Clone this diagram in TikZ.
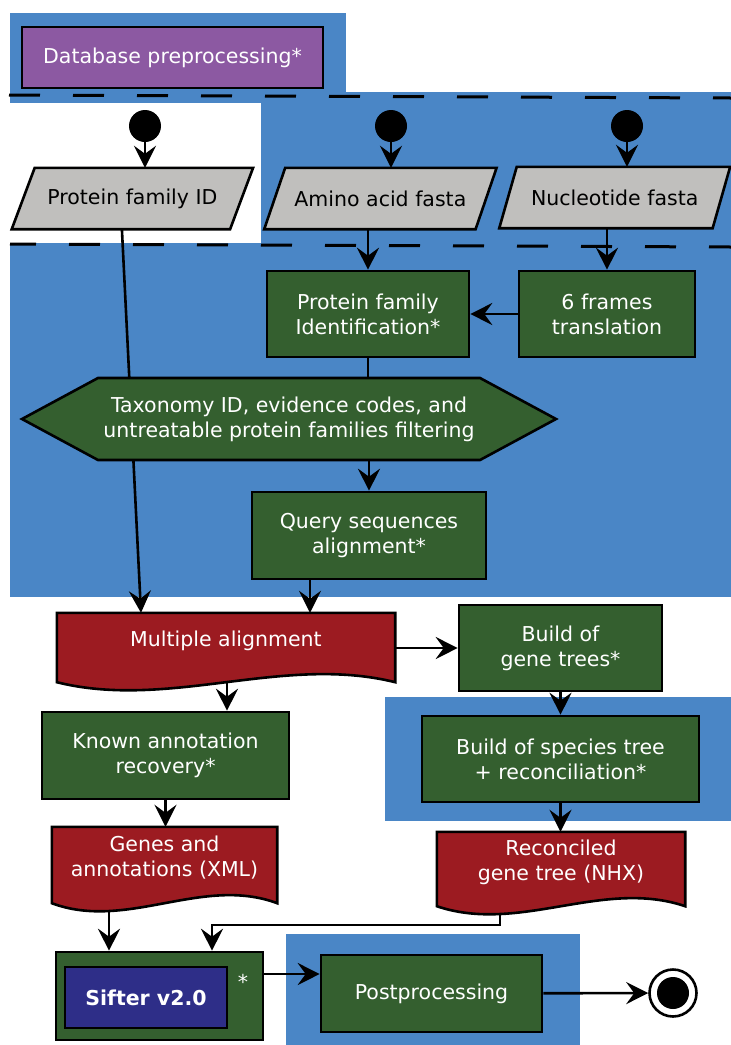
\documentclass[tikz,border=0pt]{standalone}
\usepackage{fontspec}
\setmainfont{DejaVu Sans}
\usetikzlibrary{shapes.geometric,shapes.symbols,arrows.meta,calc}
\pgfdeclarelayer{bg}
\pgfdeclarelayer{lines}
\pgfdeclarelayer{docs}
\pgfsetlayers{bg,lines,docs,main}
\definecolor{bluebg}{RGB}{74,134,198}
\definecolor{boxgreen}{RGB}{52,95,47}
\definecolor{docred}{RGB}{156,27,33}
\definecolor{dbpurple}{RGB}{140,89,162}
\definecolor{iogray}{RGB}{192,191,189}
\definecolor{sifnavy}{RGB}{46,46,136}
\newcommand\docoutline[2]{%
\begin{pgfonlayer}{docs}
\filldraw[docline] (#1.north west) -- (#1.north east) -- ($(#1.south east)+(0,#2)$)
 .. controls ($(#1.south east)!0.3333!(#1.south west)+(0,#2-28)$) and ($(#1.south east)!0.6667!(#1.south west)+(0,#2+28)$) .. ($(#1.south west)+(0,#2)$) -- cycle;
\end{pgfonlayer}}
\newcommand\paraoutline[2]{%
\begin{pgfonlayer}{docs}
\filldraw[paraline] ([xshift=-#2pt]#1.south west) -- ([xshift=-#2pt]#1.south east) -- ([xshift=#2pt]#1.north east) -- ([xshift=#2pt]#1.north west) -- cycle;
\end{pgfonlayer}}
\begin{document}
\begin{tikzpicture}[x=1pt,y=-1pt,
 every node/.style={font=\fontsize{20.5}{25}\selectfont},
 proc/.style={rectangle, draw=black, line width=2.6pt, fill=boxgreen, text=white, align=center, inner sep=0pt},
 iobox/.style={rectangle, draw=none, fill=none, text=black, inner sep=0pt, minimum height=61pt},
 paraline/.style={draw=black, line width=2.6pt, fill=iogray},
 docnode/.style={rectangle, draw=none, fill=none, text=white, align=center, inner sep=0pt},
 docline/.style={draw=black, line width=2.6pt, fill=docred},
 startdot/.style={circle, fill=black, minimum size=32pt, inner sep=0pt},
 arr/.style={line width=2.6pt, -{Stealth[length=22pt, width=22pt, inset=8pt]}},
 plain/.style={line width=2.6pt},
 dashline/.style={line width=3pt, dash pattern=on 31pt off 33pt},
]
\useasboundingbox (0,0) rectangle (731,1045);
\begin{pgfonlayer}{bg}
\fill[bluebg] (10,13) rectangle (346,103);
\fill[bluebg] (261,92) rectangle (731,244);
\fill[bluebg] (10,243) rectangle (731,597);
\fill[bluebg] (385,697) rectangle (731,821);
\fill[bluebg] (286,934) rectangle (580,1045);
\draw[dashline] (9,95) -- (731,98);
\draw[dashline, dash phase=5pt] (10,244) -- (731,247);
\end{pgfonlayer}

\node[proc, fill=dbpurple, minimum width=301pt, minimum height=61pt] (db) at (172.5,57.5) {Database preprocessing*};
\node[startdot] (s1) at (145,126) {};
\node[startdot] (s2) at (391,126) {};
\node[startdot] (s3) at (627,126) {};
\node[iobox, minimum width=218pt] (pfid) at (132.4,198.5) {Protein family ID};
\node[iobox, minimum width=211pt] (aa) at (380.4,198.5) {Amino acid fasta};
\node[iobox, minimum width=213pt] (nf) at (614.7,197.5) {Nucleotide fasta};
\paraoutline{pfid}{11.5}
\paraoutline{aa}{10.5}
\paraoutline{nf}{8.75}
\node[proc, minimum width=202pt, minimum height=86pt] (pfi) at (368,314) {Protein family\\Identification*};
\node[proc, minimum width=176pt, minimum height=86pt] (sft) at (607,314) {6 frames\\translation};
\node[signal, signal to=west and east, signal pointer angle=56.7, draw=black, line width=2.6pt, fill=boxgreen, text=white, align=center, inner sep=0pt, minimum width=534pt, minimum height=82pt] (hex) at (289,419) {Taxonomy ID, evidence codes, and\\untreatable protein families filtering};
\node[proc, minimum width=234pt, minimum height=87pt] (qsa) at (369,535.5) {Query sequences\\alignment*};
\node[docnode, minimum width=338pt, minimum height=56pt] (ma) at (226,641) {Multiple alignment};
\node[proc, minimum width=203pt, minimum height=86pt] (bgt) at (560.5,648) {Build of\\gene trees*};
\node[proc, minimum width=247pt, minimum height=87pt] (kar) at (165.5,755.5) {Known annotation\\recovery*};
\node[proc, minimum width=277pt, minimum height=86pt] (bst) at (560.5,759) {Build of species tree\\+ reconciliation*};
\node[docnode, minimum width=225pt, minimum height=62pt] (gax) at (164.5,858) {Genes and\\annotations (XML)};
\node[docnode, minimum width=248pt, minimum height=60pt] (rgt) at (561,862) {Reconciled\\gene tree (NHX)};
\node[proc, minimum width=207pt, minimum height=88pt] (sif) at (159.5,996) {};
\node[proc, fill=sifnavy, minimum width=162pt, minimum height=61pt, font=\fontsize{20.5}{25}\selectfont\bfseries] (sv) at (146,997.5) {Sifter v2.0};
\node[text=white] (star) at (243,982) {*};
\node[proc, minimum width=221pt, minimum height=77pt] (post) at (431.5,993.5) {Postprocessing};
\node[circle, draw=black, fill=white, line width=2.6pt, minimum size=47pt, inner sep=0pt, path picture={\fill[black] (path picture bounding box.center) circle[radius=16pt];}] (end) at (673,993) {};

\docoutline{ma}{13}
\docoutline{gax}{14}
\docoutline{rgt}{14}

\coordinate (bend) at (212,925);
\begin{pgfonlayer}{lines}
\draw[arr] (s1) -- (s1 |- pfid.north);
\draw[arr] (s2) -- (s2 |- aa.north);
\draw[arr] (s3) -- (s3 |- nf.north);
\draw[arr] (aa.south -| pfi.north) -- (pfi.north);
\draw[arr] (nf.south -| sft.north) -- (sft.north);
\draw[arr] (sft) -- (pfi);
\draw[plain] (pfi.south) -- (pfi.south |- hex.center);
\draw[arr] ([xshift=-10.5pt]pfid.south) -- ([xshift=-85pt]ma.north);
\draw[arr] (qsa.north |- hex.center) -- (qsa.north);
\draw[arr] ([xshift=-59pt]qsa.south) -- ([xshift=-59pt]qsa.south |- ma.north);
\draw[arr] (bgt.west -| ma.east) -- (bgt.west);
\draw[arr] ([xshift=1pt]ma.center) -- ([xshift=1pt]ma.center |- kar.north);
\draw[arr] (bgt) -- (bst);
\draw[arr] (kar.south) -- (kar.south |- gax.north);
\draw[arr] (bst.south) -- (bst.south |- rgt.north);
\draw[arr] ([xshift=-55.5pt]gax.center) -- ([xshift=-55.5pt]gax.center |- sif.north);
\draw[arr] ([xshift=-61pt]rgt.center) |- (bend) -- (bend |- sif.north);
\draw[arr] ([yshift=22pt]sif.east) -- ([yshift=22pt]sif.east -| post.west);
\draw[arr] (post) -- (end);
\end{pgfonlayer}
\end{tikzpicture}
\end{document}
